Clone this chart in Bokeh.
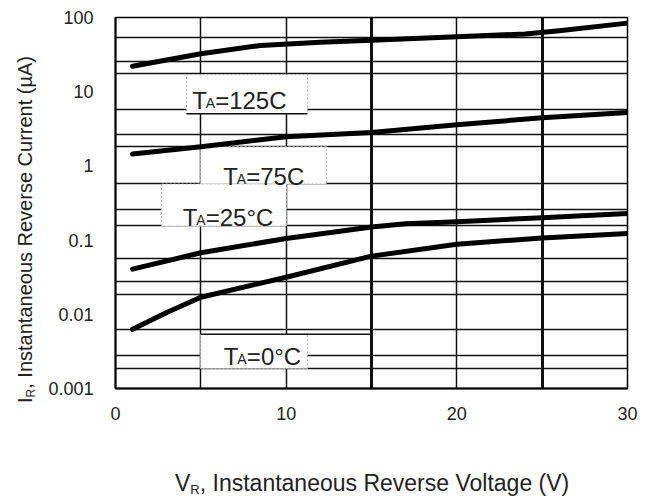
from bokeh.plotting import figure
from bokeh.models import FixedTicker, Grid, Div
from bokeh.layouts import row, column
from bokeh.core.properties import value
from bokeh.embed import file_html
from bokeh.resources import INLINE

# ---- data (V_R in volts, I_R in microamps) ----
vr_125 = [1, 5, 8.5, 12, 15, 20, 24, 26, 30]
ir_125 = [22, 32.5, 42, 46.5, 49.5, 55, 60, 66.5, 84]

vr_75 = [1, 5, 10, 15, 20, 25, 30]
ir_75 = [1.45, 1.81, 2.47, 2.82, 3.58, 4.46, 5.25]

vr_25 = [1, 5, 10, 15, 17, 20, 25, 30]
ir_25 = [0.0406, 0.0676, 0.105, 0.150, 0.166, 0.177, 0.200, 0.228]

vr_0 = [1, 3, 5, 10, 15, 20, 25, 30]
ir_0 = [0.00627, 0.0106, 0.017, 0.0316, 0.0608, 0.088, 0.107, 0.123]

x_ticks = [0, 10, 20, 30]
y_ticks = [0.001, 0.01, 0.1, 1, 10, 100]
y_tick_labels = ["0.001", "0.01", "0.1", "1", "10", "100"]

# horizontal grid lines as drawn in the datasheet chart
y_grid_lines = [53.7, 25.4, 17.5, 5.71, 2.62, 1.81, 0.571, 0.262, 0.155,
                0.0571, 0.0279, 0.0186, 0.00627, 0.00279, 0.00186]
x_grid_thin = [5, 10, 20]
x_grid_thick = [15, 25]

# label boxes: (left, right, top, bottom) and text anchors
box_left = [4.16, 4.98, 2.70, 4.98]
box_right = [11.25, 12.36, 10.02, 11.25]
box_top = [17.0, 1.81, 0.571, 0.00537]
box_bottom = [5.04, 0.571, 0.1545, 0.00186]
lab_x = [4.49, 6.31, 3.94, 6.35]
lab_y = [7.68, 0.721, 0.2047, 0.0027]
lab_rest = ["=125C", "=75C", "=25\u00b0C", "=0\u00b0C"]

FONT = "Liberation Sans"
TXT = "#222222"

p = figure(width=608, height=440, x_range=(0, 30), y_range=(0.001, 100),
           y_axis_type="log", output_backend="svg", toolbar_location=None,
           min_border_left=75, min_border_right=21, min_border_top=17,
           min_border_bottom=52)
p.background_fill_color = "white"
p.border_fill_color = "white"
p.outline_line_color = "black"
p.outline_line_width = 1.5

# axes
p.xaxis.ticker = FixedTicker(ticks=x_ticks)
p.yaxis.ticker = FixedTicker(ticks=y_ticks)
p.yaxis.major_label_overrides = {t: s for t, s in zip(y_ticks, y_tick_labels)}
for ax in (p.xaxis, p.yaxis):
    ax.major_tick_in = 0
    ax.major_tick_out = 0
    ax.minor_tick_line_color = None
    ax.major_tick_line_color = None
    ax.axis_line_color = "black"
    ax.axis_line_width = 2
    ax.major_label_text_font = FONT
    ax.major_label_text_font_size = "18px"
    ax.major_label_text_color = TXT
p.xaxis.major_label_standoff = 18
p.yaxis.major_label_standoff = 22

# grids
p.xgrid.ticker = FixedTicker(ticks=x_grid_thin)
p.xgrid.grid_line_color = "#111111"
p.xgrid.grid_line_width = 1.5
p.ygrid.ticker = FixedTicker(ticks=y_grid_lines)
p.ygrid.grid_line_color = "#111111"
p.ygrid.grid_line_width = 1.5
thick = Grid(dimension=0, ticker=FixedTicker(ticks=x_grid_thick),
             grid_line_color="#111111", grid_line_width=3)
p.add_layout(thick)

# label boxes
p.quad(left=box_left, right=box_right, top=box_top, bottom=box_bottom,
       fill_color="white", line_color="#b0b0b0", line_dash="2 2", line_width=1)
p.segment(x0=[box_left[0], box_left[3]], x1=[box_right[0], 15],
          y0=[box_bottom[0], box_top[3]], y1=[box_bottom[0], box_top[3]],
          line_color="#111111", line_width=1.5)

# curves
for xs, ys in ((vr_125, ir_125), (vr_75, ir_75), (vr_25, ir_25), (vr_0, ir_0)):
    p.line(xs, ys, line_color="black", line_width=5,
           line_join="round", line_cap="round")

# curve labels T_A=...
p.text(x=lab_x, y=lab_y, text=["T"] * 4, text_font=value(FONT),
       text_font_size="24px", text_color=TXT, text_baseline="alphabetic",
       text_align="left")
p.text(x=lab_x, y=lab_y, text=["A"] * 4, text_font=value(FONT),
       text_font_size="14px", text_color=TXT, text_baseline="alphabetic",
       text_align="left", x_offset=13.5, y_offset=3)
p.text(x=lab_x, y=lab_y, text=lab_rest, text_font=value(FONT),
       text_font_size="24px", text_color=TXT, text_baseline="alphabetic",
       text_align="left", x_offset=23)

# axis titles as HTML (with subscripts)
y_title = ("<div style=\"position:relative;width:40px;height:440px;\">"
           "<div style=\"position:absolute;left:15px;top:403px;"
           "transform:rotate(-90deg);transform-origin:0 0;white-space:nowrap;"
           "font-family:'Liberation Sans';font-size:20px;line-height:20px;"
           "color:#222222;\">I<span style=\"font-size:12px;position:relative;"
           "top:3px;\">R</span>, Instantaneous Reverse Current (\u00b5A)</div></div>")
x_title = ("<div style=\"position:relative;width:648px;height:55px;\">"
           "<div style=\"position:absolute;left:175px;top:32px;white-space:nowrap;"
           "font-family:'Liberation Sans';font-size:23px;line-height:23px;"
           "color:#222222;\">V<span style=\"font-size:13px;position:relative;"
           "top:3px;\">R</span>, Instantaneous Reverse Voltage (V)</div></div>")

ydiv = Div(text=y_title, width=40, height=440, margin=0)
xdiv = Div(text=x_title, width=648, height=55, margin=0)
layout = column(row(ydiv, p, spacing=0), xdiv, spacing=0)

open("out.html", "w").write(file_html(layout, INLINE))
